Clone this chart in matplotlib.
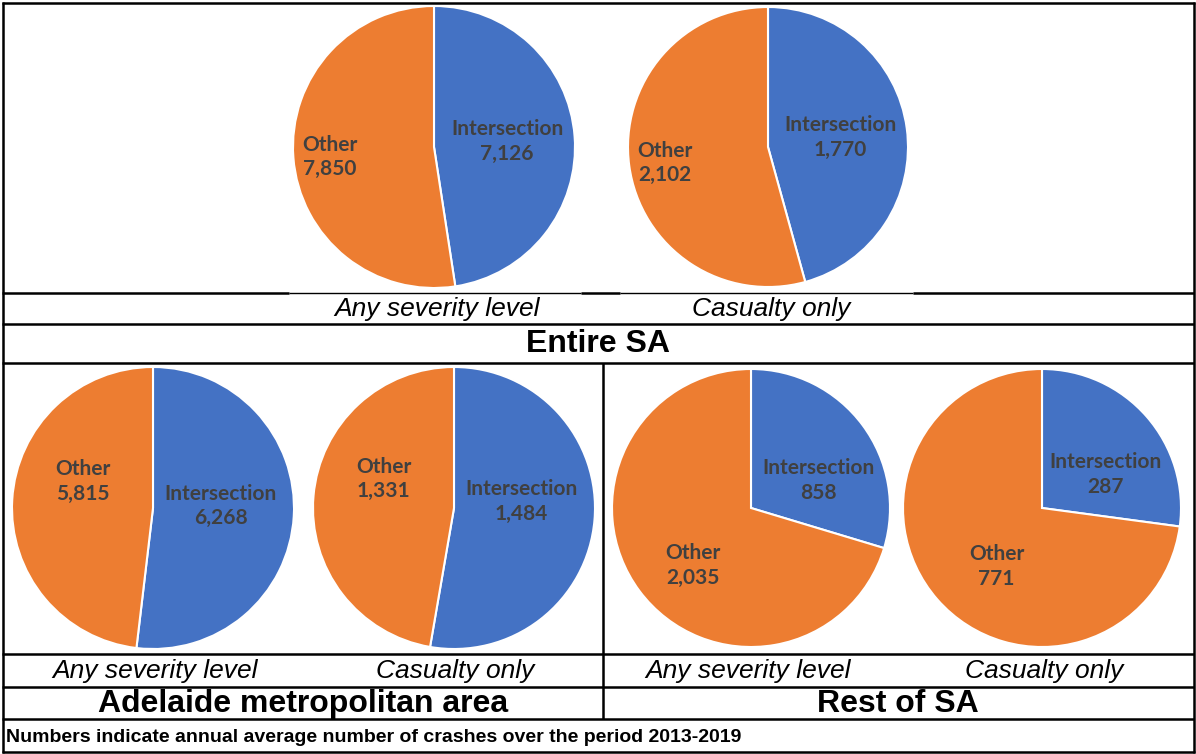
import numpy as np
import matplotlib
matplotlib.use("Agg")
import matplotlib.pyplot as plt
from matplotlib.lines import Line2D

# ---------------- data ----------------
categories = ["Intersection", "Other"]
entire_any = [7126, 7850]
entire_casualty = [1770, 2102]
adelaide_any = [6268, 5815]
adelaide_casualty = [1484, 1331]
rest_any = [858, 2035]
rest_casualty = [287, 771]

subtitles = ["Any severity level", "Casualty only"]
region_titles = ["Entire SA", "Adelaide metropolitan area", "Rest of SA"]
footnote = "Numbers indicate annual average number of crashes over the period 2013-2019"

# ---------------- layout (pixels) ----------------
W, H = 1196, 754
fig = plt.figure(figsize=(W / 100, H / 100), dpi=100)
fig.patch.set_facecolor("white")

BLUE = "#4472C4"
ORANGE = "#ED7D31"
LABEL_COLOR = "#404040"


def fx(x):
    return x / W


def fy(y):
    return 1 - y / H


def hline(y, x0, x1, lw=1.8):
    fig.add_artist(Line2D([fx(x0), fx(x1)], [fy(y), fy(y)], color="black",
                          lw=lw, transform=fig.transFigure, solid_capstyle="butt"))


def vline(x, y0, y1, lw=1.8):
    fig.add_artist(Line2D([fx(x), fx(x)], [fy(y0), fy(y1)], color="black",
                          lw=lw, transform=fig.transFigure, solid_capstyle="butt"))


# pie placement: (values, center x, center y, radius, label style)
# label style: per slice (distance, nudge_x_px, nudge_y_px)
pies = [
    (entire_any, 434, 147, 141, [(0.52, 0, 0), (0.74, 0, -2)]),
    (entire_casualty, 768, 147, 140, [(0.52, 0, 0), (0.74, 0, -2)]),
    (adelaide_any, 153, 508, 141, [(0.48, 0, 6), (0.50, 0, 22)]),
    (adelaide_casualty, 454, 508, 141, [(0.48, 0, 12), (0.50, 0, 23)]),
    (rest_any, 751, 508, 139, [(0.50, 12, -14), (0.58, 7, -9)]),
    (rest_casualty, 1042, 508, 139, [(0.50, 11, -12), (0.53, 10, -10)]),
]

for values, cx, cy, r, lstyle in pies:
    ax = fig.add_axes([fx(cx - r), fy(cy + r), 2 * r / W, 2 * r / H])
    wedges, _ = ax.pie(values, colors=[BLUE, ORANGE], startangle=90,
                       counterclock=False, radius=1,
                       wedgeprops=dict(edgecolor="white", linewidth=1.5))
    ax.set_xlim(-1, 1)
    ax.set_ylim(-1, 1)
    ax.set_aspect("auto")
    ax.axis("off")
    for w, cat, v, (d, nx, ny) in zip(wedges, categories, values, lstyle):
        ang = np.deg2rad((w.theta1 + w.theta2) / 2)
        x = d * np.cos(ang) + nx / r
        y = d * np.sin(ang) + ny / r
        ax.text(x, y, f"{cat}\n{v:,}", ha="center", va="center",
                fontsize=15, fontfamily="Lato", fontweight="bold",
                color=LABEL_COLOR, linespacing=1.3)

# ---------------- table lines ----------------
# outer border
hline(2.5, 1.5, 1194.5)
hline(752, 1.5, 1194.5)
vline(2.5, 1.5, 752.5)
vline(1193.5, 1.5, 752.5)
# under top pies (thinner where the pie images sit on it)
hline(293, 2, 289)
hline(293, 289, 581, lw=1.0)
hline(293, 581, 620)
hline(293, 620, 913, lw=1.0)
hline(293, 913, 1194)
hline(324, 2, 1194)
hline(363, 2, 1194)
hline(654, 2, 1194)
hline(687, 2, 1194)
hline(719, 2, 1194)
vline(603, 363, 719)

# ---------------- texts ----------------
sub_kw = dict(ha="center", va="center", fontsize=19, fontstyle="italic",
              fontfamily="Liberation Sans", color="black")
title_kw = dict(ha="center", va="center", fontsize=23, fontweight="bold",
                fontfamily="Liberation Sans", color="black")

fig.text(fx(437), fy(309), subtitles[0], **sub_kw)
fig.text(fx(771), fy(309), subtitles[1], **sub_kw)
fig.text(fx(598), fy(344), region_titles[0], **title_kw)

fig.text(fx(155), fy(671), subtitles[0], **sub_kw)
fig.text(fx(455), fy(671), subtitles[1], **sub_kw)
fig.text(fx(748), fy(671), subtitles[0], **sub_kw)
fig.text(fx(1044), fy(671), subtitles[1], **sub_kw)

fig.text(fx(303), fy(704), region_titles[1], **title_kw)
fig.text(fx(898), fy(704), region_titles[2], **title_kw)

fig.text(fx(6), fy(737), footnote, ha="left", va="center", fontsize=14,
         fontweight="bold", fontfamily="Liberation Sans", color="black")

fig.savefig("out.png", dpi=100, facecolor="white")
